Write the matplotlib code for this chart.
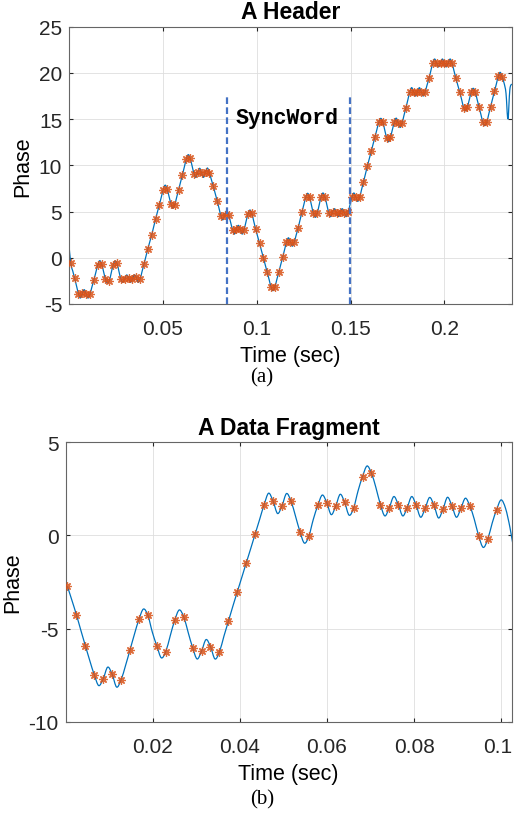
import numpy as np
import matplotlib
matplotlib.use("Agg")
import matplotlib.pyplot as plt
import matplotlib.transforms as mtransforms
from matplotlib.path import Path
from matplotlib.patches import PathPatch

plt.rcParams['font.family'] = ['Liberation Sans', 'DejaVu Sans']
plt.rcParams['axes.unicode_minus'] = False

# sample grid (seconds)
dt = 0.002053
t0_a = 0.00085
t0_b = 0.0004

# (a) header: phase at the sample points
phase_a = [-0.61, -2.23, -3.90, -3.85, -3.95, -3.90, -2.40, -0.79, -0.65, -2.31,
           -2.50, -0.79, -0.61, -2.31, -2.30, -2.15, -2.31, -2.10, -2.31, -0.70,
           0.94, 2.46, 4.15, 5.74, 7.36, 7.45, 5.85, 5.74, 7.36, 9.00,
           10.68, 10.75, 9.10, 9.28, 9.13, 9.32, 9.15, 7.73, 6.17, 4.50,
           4.60, 4.62, 3.05, 3.10, 3.08, 3.05, 4.73, 4.80, 3.10, 1.56,
           0.00, -1.58, -3.17, -3.15, -1.58, 0.03, 1.66, 1.75, 1.66, 3.18,
           4.90, 6.54, 6.54, 4.80, 4.85, 6.60, 6.55, 4.85, 4.95, 4.88,
           4.95, 4.88, 4.92, 6.54, 6.60, 6.54, 8.20, 9.90, 11.50, 13.10,
           14.70, 14.70, 13.00, 13.05, 14.65, 14.60, 14.55, 16.20, 17.90, 17.97,
           17.90, 17.97, 17.95, 19.40, 21.10, 21.04, 21.10, 21.04, 21.10, 21.04,
           19.40, 17.90, 16.25, 16.34, 17.97, 17.95, 16.30, 14.65, 14.65, 16.34,
           18.00, 19.63, 19.52]
# (a) curve half way between samples
mid_a = [-1.42, -3.07, -4.36, -3.46, -4.36, -3.15, -1.60, -0.32, -1.48, -2.74,
         -1.65, -0.36, -1.46, -2.66, -1.87, -2.66, -1.87, -2.66, -1.50, 0.12,
         1.70, 3.30, 4.95, 6.55, 7.85, 6.65, 5.35, 6.55, 8.18, 9.84,
         11.15, 9.93, 8.70, 9.67, 8.70, 9.70, 8.45, 6.95, 5.33, 4.10,
         5.10, 3.83, 2.56, 3.50, 2.56, 3.90, 5.16, 3.95, 2.33, 0.78,
         -0.79, -2.37, -3.57, -2.36, -0.77, 0.85, 2.15, 1.25, 2.42, 4.04,
         5.72, 6.97, 5.67, 4.37, 5.72, 7.00, 5.70, 4.45, 5.30, 4.45,
         5.30, 4.45, 5.73, 7.00, 6.10, 7.37, 9.05, 10.70, 12.30, 13.90,
         15.08, 13.85, 12.55, 13.85, 15.10, 14.10, 15.38, 17.05, 18.40, 17.50,
         18.40, 17.50, 18.68, 20.25, 21.50, 20.65, 21.50, 20.65, 21.50, 20.22,
         18.65, 17.08, 15.90, 17.15, 18.33, 17.13, 15.48, 14.29, 15.50, 17.17,
         18.80, 20.06]
head_a = [1.5]
tail_a = [18.9, 17.8, 15.0, 18.2, 18.8]
sync_bounds = [0.0840, 0.1497]
sync_top = 17.5

# (b) data fragment
phase_b = [-2.73, -4.25, -5.91, -7.48, -7.70, -7.45, -7.75, -6.14, -4.50, -4.29,
           -5.93, -6.23, -4.55, -4.36, -6.02, -6.21, -5.97, -6.25, -4.61, -3.02,
           -1.47, 0.09, 1.66, 1.84, 1.60, 1.85, 0.21, -0.04, 1.61, 1.77,
           1.57, 1.78, 1.46, 3.16, 3.34, 1.66, 1.50, 1.66, 1.50, 1.62,
           1.45, 1.61, 1.41, 1.59, 1.45, 1.59, -0.04, -0.21, 1.39]
mid_b = [-3.48, -5.09, -6.72, -8.06, -7.07, -8.14, -6.98, -5.29, -3.95, -5.20,
         -6.57, -5.38, -4.00, -5.20, -6.63, -5.59, -6.63, -5.41, -3.80, -2.25,
         -0.70, 0.87, 2.27, 1.18, 2.25, 1.05, -0.41, 0.87, 2.17, 1.12,
         2.21, 1.09, 2.39, 3.73, 2.57, 1.05, 2.09, 1.05, 2.09, 0.98,
         2.04, 0.94, 2.05, 0.98, 2.00, 0.87, -0.64, 0.66]
head_b = []
tail_b = [1.91, 1.45, 0.40, -1.00]

LINE = '#0072BD'
MARK = '#D95319'


def build_curve(t0, phase, mid, head, tail):
    vals = list(head)
    for i, p in enumerate(phase):
        vals.append(p)
        if i < len(mid):
            vals.append(mid[i])
    vals += tail
    start = t0 - 0.5 * dt * len(head)
    t = start + 0.5 * dt * np.arange(len(vals))
    return t, np.array(vals)


def smooth_path(x, y):
    pts = np.column_stack([x, y])
    n = len(pts)
    verts = [pts[0]]
    codes = [Path.MOVETO]
    for i in range(n - 1):
        p0 = pts[max(i - 1, 0)]
        p1 = pts[i]
        p2 = pts[i + 1]
        p3 = pts[min(i + 2, n - 1)]
        verts += [p1 + (p2 - p0) / 6, p2 - (p3 - p1) / 6, p2]
        codes += [Path.CURVE4] * 3
    return Path(verts, codes)


def style(ax, title, xlim, ylim, xticks, yticks):
    ax.set_xlim(*xlim)
    ax.set_ylim(*ylim)
    ax.set_xticks(xticks)
    ax.set_xticklabels([f"{v:g}" for v in xticks])
    ax.set_yticks(yticks)
    ax.grid(True, color='#dedede', lw=0.6)
    ax.set_axisbelow(True)
    ax.tick_params(direction='in', top=True, right=True, length=3,
                   labelsize=15, colors='#262626')
    ax.tick_params(axis='x', pad=11)
    ax.tick_params(axis='y', pad=5)
    for s in ax.spines.values():
        s.set_color('#666666')
        s.set_linewidth(0.8)
    ax.set_title(title, fontsize=16.5, fontweight='bold', pad=6)
    ax.set_xlabel('Time (sec)', fontsize=15.5, labelpad=5)
    ax.set_ylabel('Phase', fontsize=15.5, labelpad=4)


fig = plt.figure(figsize=(5.14, 8.29), dpi=100)
ax1 = fig.add_axes([0.1346, 0.6322, 0.861, 0.3344])
ax2 = fig.add_axes([0.1278, 0.1282, 0.8677, 0.337])

for ax, t0, phase, mid, head, tail in [
        (ax1, t0_a, phase_a, mid_a, head_a, tail_a),
        (ax2, t0_b, phase_b, mid_b, head_b, tail_b)]:
    tc, vc = build_curve(t0, phase, mid, head, tail)
    ax.add_patch(PathPatch(smooth_path(tc, vc), fill=False, edgecolor=LINE, lw=0.9, zorder=2))
    ts = t0 + dt * np.arange(len(phase))
    ax.plot(ts, phase, linestyle='none', marker=(8, 2, 0), ms=6, mew=0.9,
            color=MARK, alpha=0.85, zorder=3)

for b in sync_bounds:
    ax1.plot([b, b], [-5, sync_top], ls=(0, (3, 1.5)), color='#4472C4', lw=1.6, zorder=4)
ax1.text(0.0888, 15.2, 'SyncWord', family=['Liberation Mono', 'DejaVu Sans Mono'],
         fontweight='bold', fontsize=15.5, va='center', ha='left')

style(ax1, 'A Header', (0, 0.2359), (-5, 25), [0.05, 0.1, 0.15, 0.2], [-5, 0, 5, 10, 15, 20, 25])
style(ax2, 'A Data Fragment', (0, 0.1024), (-10, 5), [0.02, 0.04, 0.06, 0.08, 0.1], [-10, -5, 0, 5])

# keep the last tick label of (b) inside the figure
last = ax2.get_xticklabels()[-1]
last.set_transform(last.get_transform() + mtransforms.ScaledTranslation(-4 / 100, 0, fig.dpi_scale_trans))

fig.text(0.51, 1 - 378 / 829, '(a)', family=['Liberation Serif', 'DejaVu Serif'],
         fontsize=15, ha='center', va='center')
fig.text(0.51, 1 - 800 / 829, '(b)', family=['Liberation Serif', 'DejaVu Serif'],
         fontsize=15, ha='center', va='center')

fig.savefig('out.png', dpi=100)
